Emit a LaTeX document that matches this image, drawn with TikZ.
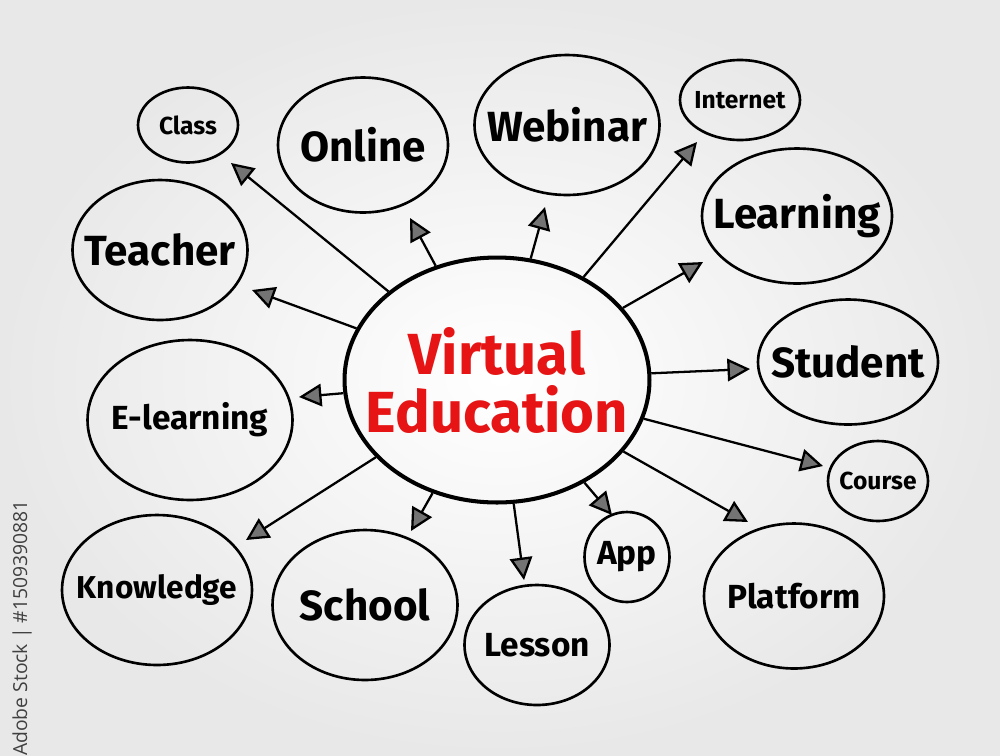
\documentclass[tikz,border=0pt]{standalone}
\usepackage{fontspec}
\setmainfont{Fira Sans}
\setsansfont{Open Sans}
\usepackage{tikz}
\usetikzlibrary{shapes}
\usetikzlibrary{arrows.meta}
\definecolor{markred}{RGB}{230,20,20}
\tikzset{
	bubble/.style={ellipse,draw,line width=1.5pt,inner xsep=-40pt,inner ysep=-20pt,font=\bfseries},
	hub/.style={ellipse,draw,line width=2.3pt,inner xsep=-60pt,inner ysep=-30pt,align=center,text=markred,font=\bfseries\fontsize{33}{35}\selectfont},
	big/.style={font=\bfseries\fontsize{24}{24}\selectfont},
	mid/.style={font=\bfseries\fontsize{19}{19}\selectfont},
	small/.style={font=\bfseries\fontsize{14}{14}\selectfont}
}

\begin{document}
\begin{tikzpicture}[x=0.02cm,y=-0.02cm,
       ->,>={Triangle[length=4.5mm,width=4.5mm,fill=black!55]},line width=1.3pt]
	% background
	\fill[inner color=white,outer color=black!9,draw=none] (0,0) rectangle (1000,755);
	\useasboundingbox (0,0) rectangle (1000,755);
	\node[rotate=90,text=black!75,font=\sffamily\fontsize{11}{11}\selectfont] (stock) at (22,628) {Adobe Stock | \#1509390881};

	\node [hub,minimum width=61mm,minimum height=49mm] (hub) at (497,380) {Virtual\\[-2pt]Education};

	\node [bubble,small,minimum width=20mm,minimum height=15mm] (class) at (188,125) {Class};
	\node [bubble,big,minimum width=34mm,minimum height=27mm] (online) at (363,145) {Online};
	\node [bubble,big,minimum width=37mm,minimum height=28mm] (webinar) at (567,125) {Webinar};
	\node [bubble,small,minimum width=24mm,minimum height=16mm] (internet) at (740,100) {Internet};
	\node [bubble,big,minimum width=38mm,minimum height=27mm] (learning) at (797,216) {Learning};
	\node [bubble,big,minimum width=35mm,minimum height=28mm] (teacher) at (160,250) {Teacher};
	\node [bubble,big,minimum width=36mm,minimum height=25mm] (student) at (848,362) {Student};
	\node [bubble,mid,minimum width=41mm,minimum height=32mm] (elearning) at (190,420) {E-learning};
	\node [bubble,small,minimum width=20mm,minimum height=16mm] (course) at (878,481) {Course};
	\node [bubble,mid,minimum width=38mm,minimum height=30mm,font=\bfseries\fontsize{18}{18}\selectfont] (knowledge) at (157,590) {Knowledge};
	\node [bubble,big,minimum width=37mm,minimum height=30mm] (school) at (365,605) {School};
	\node [bubble,mid,minimum width=29mm,minimum height=24mm] (lesson) at (537,645) {Lesson};
	\node [bubble,mid,minimum width=17mm,minimum height=18mm] (app) at (627,557) {App};
	\node [bubble,mid,minimum width=36mm,minimum height=29mm] (platform) at (794,596) {Platform};

	% arrow tips
	\coordinate (tclass) at (231,163);
	\coordinate (tonline) at (410,218);
	\coordinate (twebinar) at (545,207);
	\coordinate (tinternet) at (697,142);
	\coordinate (tlearning) at (703,262);
	\coordinate (tstudent) at (750,369);
	\coordinate (tcourse) at (823,466);
	\coordinate (tplatform) at (748,522);
	\coordinate (tapp) at (612,515);
	\coordinate (tlesson) at (524,580);
	\coordinate (tschool) at (411,531);
	\coordinate (tknowledge) at (246,540);
	\coordinate (telearning) at (299,397);
	\coordinate (tteacher) at (252,290);

	\foreach \t in {class,online,webinar,internet,learning,student,course,platform,app,lesson,school,knowledge,elearning,teacher}
	  \draw (hub) -- (t\t);
\end{tikzpicture}
\end{document}
